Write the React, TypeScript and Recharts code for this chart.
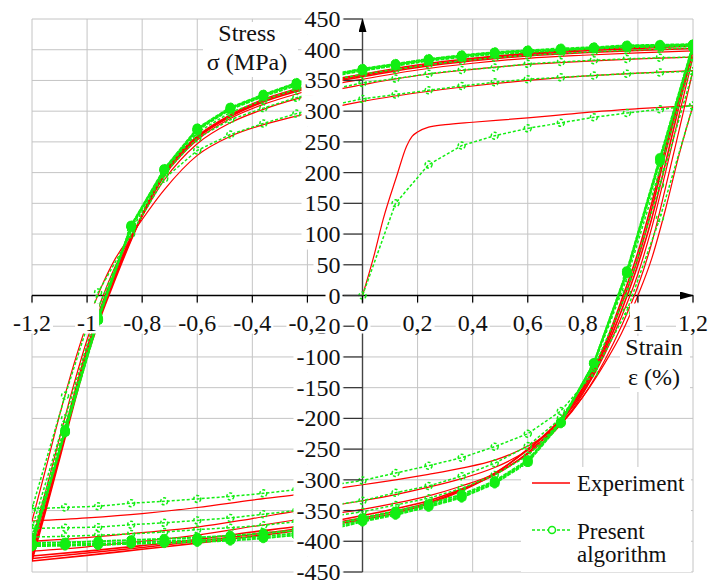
import { CartesianGrid, Legend, Line, LineChart, ReferenceLine, XAxis, YAxis } from "recharts";

const FONT = "Liberation Serif";
const RED = "#ff0000";
const GREEN = "#12ee12";
const GRID = "#c4c4c4";

const CHART_W = 708;
const CHART_H = 581;
const MARGIN = { top: 19, right: 15, bottom: 8, left: 31 };
const ZERO_X = 32 + (CHART_W - 32 - MARGIN.right) / 2;
const ZERO_Y = MARGIN.top + (CHART_H - MARGIN.top - 9) / 2;

// axis ticks
const strainTicks = [-1.2, -1, -0.8, -0.6, -0.4, -0.2, 0, 0.2, 0.4, 0.6, 0.8, 1, 1.2];
const strainLabels = ["-1,2", "-1", "-0,8", "-0,6", "-0,4", "-0,2", "0", "0,2", "0,4", "0,6", "0,8", "1", "1,2"];
const stressTicks = [450, 400, 350, 300, 250, 200, 150, 100, 50, 0, -50, -100, -150, -200, -250, -300, -350, -400, -450];
const stressLabels = ["450", "400", "350", "300", "250", "200", "150", "100", "50", "0", "-50", "-100", "-150", "-200", "-250", "-300", "-350", "-400", "-450"];

// present algorithm: points every 0.12 % strain
const simFirstStrain = [0, 0.12, 0.24, 0.36, 0.48, 0.6, 0.72, 0.84, 0.96, 1.08, 1.2];
const simFirst = [0, 150, 213, 244, 260, 272, 281, 290, 297, 303, 309];
const simStrain = [-1.2, -1.08, -0.96, -0.84, -0.72, -0.6, -0.48, -0.36, -0.24, -0.12, 0, 0.12, 0.24, 0.36, 0.48, 0.6, 0.72, 0.84, 0.96, 1.08, 1.2];
const simUpA = [-347, -163, 5, 100, 190, 236, 262, 280, 296, 309, 320, 327, 334, 341, 347, 352, 355, 358, 361, 363, 365];
const simUpB = [-379, -200, -20, 106, 198, 256, 286, 305, 322, 335, 346, 353, 361, 367, 371, 377, 380, 383, 385, 387, 388];
const simUpC = [-393, -212, -32, 110, 202, 265, 298, 318, 336, 350, 360, 368, 376, 382, 387, 391, 394, 397, 399, 401, 403];
const simUpS1 = [-403, -219, -37, 112, 204, 269, 303, 324, 342, 356, 366, 374, 382, 388, 393, 396, 399, 402, 404, 405, 406];
const simUpS2 = [-406, -221, -39, 113, 205, 271, 305, 326, 345, 358, 368, 376, 384, 390, 395, 398, 400, 403, 406, 407, 408];
const simUpS3 = [-408, -223, -41, 114, 206, 272, 306, 327, 346, 359, 369, 377, 385, 391, 396, 399, 402, 404, 407, 408, 409];
const simLowA = [-347, -345, -343, -338, -335, -331, -327, -322, -316, -309, -301, -289, -277, -264, -246, -225, -188, -126, -25, 126, 309];
const simLowB = [-379, -378, -377, -373, -370, -366, -362, -356, -350, -342, -334, -321, -310, -294, -273, -245, -200, -118, 5, 180, 365];
const simLowC = [-393, -392, -390, -388, -385, -381, -378, -374, -368, -360, -352, -341, -330, -314, -292, -261, -205, -113, 28, 205, 388];
const simLowS1 = [-403, -402, -400, -398, -396, -394, -391, -387, -382, -374, -362, -351, -339, -324, -302, -268, -206, -110, 36, 218, 403];
const simLowS2 = [-406, -405, -404, -402, -400, -398, -396, -392, -387, -378, -366, -355, -342, -327, -304, -270, -207, -110, 39, 222, 406];
const simLowS3 = [-408, -407, -406, -404, -403, -401, -399, -395, -390, -381, -368, -357, -344, -329, -306, -272, -208, -110, 40, 224, 408];

// experiment
const expFirstStrain = [0, 0.04, 0.075, 0.124, 0.16, 0.18, 0.2, 0.24, 0.3, 0.4, 0.6, 0.72, 0.84, 1.0, 1.2];
const expFirst = [0, 62, 124, 194, 243, 259, 266, 274, 278, 282, 289, 294, 299, 304, 309];
const expUpStrain = [-1.2, -1.15, -1.1, -1.05, -1.0, -0.95, -0.9, -0.84, -0.72, -0.6, -0.48, -0.36, -0.24, -0.12, 0, 0.2, 0.4, 0.6, 0.8, 1.0, 1.2];
const expUp1 = [-367, -282, -195, -115, -45, 12, 58, 98, 172, 228, 259, 278, 292, 305, 316, 330, 341, 350, 357, 362, 366];
const expUp2 = [-400, -318, -232, -148, -72, -10, 45, 96, 188, 247, 281, 303, 320, 333, 343, 358, 368, 376, 381, 385, 388];
const expUp3 = [-416, -334, -250, -165, -85, -18, 38, 94, 194, 253, 288, 311, 328, 342, 352, 367, 378, 386, 391, 395, 398];
const expUp4 = [-424, -342, -258, -173, -92, -25, 33, 93, 197, 256, 291, 315, 332, 346, 356, 371, 382, 390, 395, 399, 402];
const expUp5 = [-428, -346, -262, -177, -96, -30, 28, 92, 199, 258, 292, 317, 334, 348, 358, 373, 384, 392, 398, 402, 406];
const expUp6 = [-432, -350, -266, -181, -100, -34, 24, 90, 200, 259, 294, 319, 336, 350, 360, 375, 386, 394, 400, 404, 408];
const expLowStrain = [-1.2, -1.0, -0.8, -0.6, -0.4, -0.24, -0.12, 0, 0.12, 0.24, 0.36, 0.48, 0.6, 0.72, 0.8, 0.88, 0.94, 1.0, 1.05, 1.1, 1.15, 1.2];
const expLow1 = [-367, -362, -355, -345, -333, -324, -316, -308, -300, -291, -281, -268, -245, -208, -165, -110, -62, 0, 60, 140, 230, 309];
const expLow2 = [-400, -394, -386, -377, -363, -351, -343, -334, -324, -312, -298, -280, -252, -210, -165, -105, -50, 15, 85, 175, 270, 366];
const expLow3 = [-416, -409, -400, -390, -376, -365, -356, -348, -338, -326, -310, -290, -258, -210, -160, -95, -35, 35, 110, 200, 295, 388];
const expLow4 = [-424, -416, -407, -397, -385, -376, -368, -358, -347, -334, -315, -292, -256, -205, -157, -90, -25, 50, 125, 215, 310, 398];
const expLow5 = [-428, -419, -410, -400, -389, -380, -371, -362, -351, -337, -316, -289, -251, -202, -153, -85, -15, 60, 140, 232, 320, 402];
const expLow6 = [-432, -423, -413, -403, -392, -383, -374, -365, -354, -339, -318, -290, -250, -200, -150, -80, -8, 70, 150, 240, 325, 406];

const toPoints = (xs: number[], ys: number[]) => xs.map((x, i) => ({ x, y: ys[i] }));

const expBranches = [
  toPoints(expFirstStrain, expFirst),
  toPoints(expLowStrain, expLow1),
  toPoints(expUpStrain, expUp1),
  toPoints(expLowStrain, expLow2),
  toPoints(expUpStrain, expUp2),
  toPoints(expLowStrain, expLow3),
  toPoints(expUpStrain, expUp3),
  toPoints(expLowStrain, expLow4),
  toPoints(expUpStrain, expUp4),
  toPoints(expLowStrain, expLow5),
  toPoints(expUpStrain, expUp5),
  toPoints(expLowStrain, expLow6),
  toPoints(expUpStrain, expUp6),
];

const simOpen = [
  toPoints(simFirstStrain, simFirst),
  toPoints(simStrain, simLowA),
  toPoints(simStrain, simUpA),
  toPoints(simStrain, simLowB),
  toPoints(simStrain, simUpB),
  toPoints(simStrain, simLowC),
  toPoints(simStrain, simUpC),
];
const simStable = [
  toPoints(simStrain, simLowS1),
  toPoints(simStrain, simUpS1),
  toPoints(simStrain, simLowS2),
  toPoints(simStrain, simUpS2),
  toPoints(simStrain, simLowS3),
  toPoints(simStrain, simUpS3),
];

const textStyle = { fontFamily: FONT, fontSize: 24, fill: "#111" };

function textWidth(s: string) {
  let w = 0;
  for (const c of s) w += c === "-" ? 8 : c === "," ? 6 : 12;
  return w;
}

function StrainTick(props: any) {
  const { x, payload } = props;
  const label = strainLabels[strainTicks.indexOf(payload.value)];
  const w = textWidth(label) + 4;
  return (
    <g>
      <line x1={x} x2={x} y1={ZERO_Y} y2={ZERO_Y + 7} stroke="#000" strokeWidth={1.2} />
      <rect x={x - w / 2} y={ZERO_Y + 8} width={w} height={30} fill="#fff" />
      <text x={x} y={ZERO_Y + 35} textAnchor="middle" style={textStyle}>
        {label}
      </text>
    </g>
  );
}

function StressTick(props: any) {
  const { y, payload } = props;
  const label = stressLabels[stressTicks.indexOf(payload.value)];
  const w = textWidth(label) + 3;
  return (
    <g>
      <line x1={ZERO_X - 19} x2={ZERO_X} y1={y} y2={y} stroke="#333" strokeWidth={1.2} />
      <rect x={ZERO_X - 22 - w} y={y - 15.5} width={w + 2} height={31} fill="#fff" />
      <text x={ZERO_X - 22} y={y + 8} textAnchor="end" style={textStyle}>
        {label}
      </text>
    </g>
  );
}

const HAxisLine = (p: any) => (
  <line x1={Math.min(p.x1, p.x2)} x2={Math.max(p.x1, p.x2)} y1={p.y1} y2={p.y2} stroke="#000" strokeWidth={1.4} markerEnd="url(#axisArrow)" />
);
const VAxisLine = (p: any) => (
  <line x1={p.x1} x2={p.x2} y1={Math.max(p.y1, p.y2)} y2={Math.min(p.y1, p.y2)} stroke="#444" strokeWidth={1.4} markerEnd="url(#axisArrow)" />
);

function AxisTitle({ box, cx, lines }: { box: number[]; cx: number; lines: [string, number][] }) {
  return (
    <g>
      <rect x={box[0]} y={box[1]} width={box[2]} height={box[3]} fill="#fff" />
      {lines.map(([t, y]) => (
        <text key={t} x={cx} y={y} textAnchor="middle" style={textStyle}>
          {t}
        </text>
      ))}
    </g>
  );
}

function LegendBox() {
  const s = { fontFamily: FONT, fontSize: 23, fill: "#111" };
  return (
    <svg width={170} height={105} style={{ display: "block", background: "#fff" }}>
      <line x1={11} x2={49} y1={16} y2={16} stroke={RED} strokeWidth={1.3} />
      <text x={56} y={24} style={s}>Experiment</text>
      <line x1={11} x2={49} y1={63} y2={63} stroke={GREEN} strokeWidth={1.5} strokeDasharray="3 2" />
      <circle cx={31} cy={63} r={3.5} fill="#fff" stroke={GREEN} strokeWidth={1.5} />
      <text x={56} y={72} style={s}>Present</text>
      <text x={56} y={95} style={s}>algorithm</text>
    </svg>
  );
}

export default function App() {
  return (
    <div style={{ position: "absolute", left: 0, top: 0, background: "#fff", fontFamily: FONT }}>
      <LineChart width={CHART_W} height={CHART_H} margin={MARGIN}>
        <defs>
          <marker id="axisArrow" markerUnits="userSpaceOnUse" markerWidth={14} markerHeight={8} refX={13} refY={4} orient="auto">
            <path d="M0,0 L14,4 L0,8 z" fill="#000" />
          </marker>
        </defs>
        <CartesianGrid stroke={GRID} strokeWidth={1} />
        <ReferenceLine y={0} shape={HAxisLine} />
        <ReferenceLine x={0} shape={VAxisLine} />
        {expBranches.map((d, i) => (
          <Line
            key={`e${i}`}
            data={d}
            dataKey="y"
            name={i === 0 ? "Experiment" : `e${i}`}
            type="monotone"
            stroke={RED}
            strokeWidth={i > 6 ? 1.6 : 1.2}
            dot={false}
            legendType={i === 0 ? "line" : "none"}
            isAnimationActive={false}
          />
        ))}
        {simOpen.map((d, i) => (
          <Line
            key={`s${i}`}
            data={d}
            dataKey="y"
            name={i === 0 ? "Present algorithm" : `s${i}`}
            type="linear"
            stroke={GREEN}
            strokeWidth={1.5}
            strokeDasharray="3 2"
            dot={{ r: 3.5, stroke: GREEN, strokeWidth: 1.5, fill: "none" }}
            legendType={i === 0 ? "circle" : "none"}
            isAnimationActive={false}
          />
        ))}
        {simStable.map((d, i) => (
          <Line
            key={`t${i}`}
            data={d}
            dataKey="y"
            type="linear"
            stroke={GREEN}
            strokeWidth={2}
            strokeDasharray="4 1"
            dot={{ r: 4.5, stroke: GREEN, strokeWidth: 1, fill: GREEN }}
            legendType="none"
            isAnimationActive={false}
          />
        ))}
        <YAxis
          type="number"
          domain={[-450, 450]}
          ticks={stressTicks}
          interval={0}
          width={1}
          axisLine={false}
          tickLine={false}
          tick={<StressTick />}
          allowDataOverflow
        />
        <XAxis
          dataKey="x"
          type="number"
          domain={[-1.2, 1.2]}
          ticks={strainTicks}
          interval={0}
          height={1}
          axisLine={false}
          tickLine={false}
          tick={<StrainTick />}
          allowDataOverflow
        />
        <AxisTitle box={[203, 22, 95, 55]} cx={247} lines={[["Stress", 41], ["σ (MPa)", 70]]} />
        <AxisTitle box={[620, 336, 70, 56]} cx={654} lines={[["Strain", 355], ["ε (%)", 385]]} />
        <Legend
          layout="vertical"
          align="center"
          verticalAlign="middle"
          content={() => <LegendBox />}
          wrapperStyle={{ left: 521, top: 467, width: 170, height: 105 }}
        />
      </LineChart>
    </div>
  );
}
